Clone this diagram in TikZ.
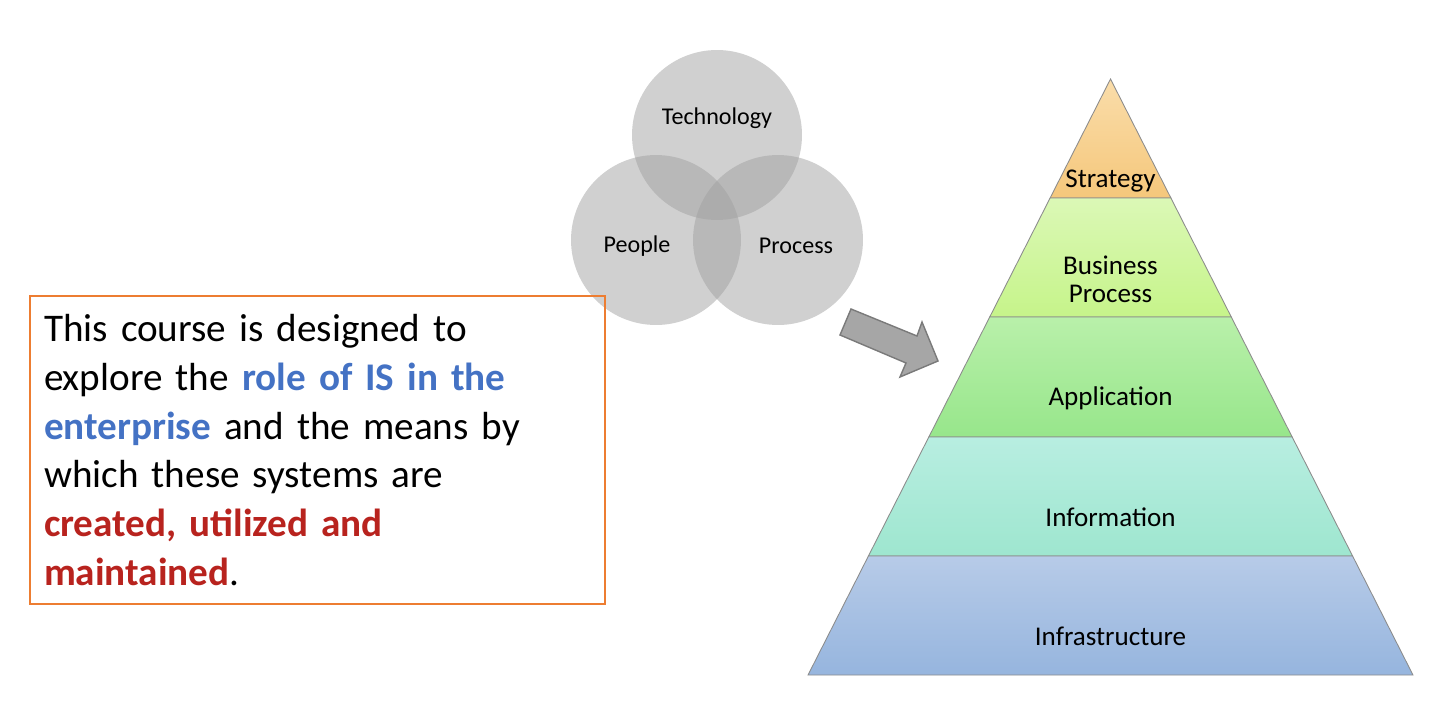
\documentclass[tikz,border=0pt]{standalone}
\usepackage{fontspec}
\setmainfont{Carlito}

\definecolor{boxorange}{HTML}{ED7D31}
\definecolor{roleblue}{HTML}{4472C4}
\definecolor{keyred}{HTML}{B8231E}
\definecolor{arrowgray}{HTML}{A6A6A6}
\definecolor{arrowedge}{HTML}{7A7A7A}
\definecolor{tieredge}{HTML}{8C8C8C}
\definecolor{stratTop}{HTML}{FADDAA}
\definecolor{stratBot}{HTML}{F5C77B}
\definecolor{busTop}{HTML}{DBF8B6}
\definecolor{busBot}{HTML}{C6F48A}
\definecolor{appTop}{HTML}{B9F0AA}
\definecolor{appBot}{HTML}{97E68B}
\definecolor{infoTop}{HTML}{B8EEE1}
\definecolor{infoBot}{HTML}{9EE6CF}
\definecolor{infraTop}{HTML}{B7CBE8}
\definecolor{infraBot}{HTML}{96B5DE}

\begin{document}
\begin{tikzpicture}[
    x=0.02cm, y=-0.02cm,
    venn/.style={
      circle,
      minimum size=3.4cm,
      inner sep=0pt,
      fill=black!37,
      fill opacity=0.5
    },
    vennlabel/.style={font=\fontsize{13.7pt}{16pt}\selectfont},
    tier/.style={draw=tieredge, line width=0.5pt},
    tierlabel/.style={font=\fontsize{15.4pt}{15.9pt}\selectfont, align=center},
    course/.style={
      draw=boxorange,
      line width=0.7pt,
      minimum height=6.16cm,
      text width=10.94cm,
      inner xsep=0.28cm,
      inner ysep=0pt,
      align=left,
      font=\fontsize{22.3pt}{27.8pt}\selectfont
    }
  ]
  \useasboundingbox (0,0) rectangle (1444,706);

  % three circles
  \node[venn] (technology) at (717,135) {};
  \node[venn] (people) at (656,240) {};
  \node[venn] (process) at (778,240) {};
  \node[vennlabel] (techlabel) at (717,118) {Technology};
  \node[vennlabel] (peoplelabel) at (637,246) {People};
  \node[vennlabel] (processlabel) at (796,246) {Process};

  % block arrow towards the pyramid
  \draw[arrowedge, fill=arrowgray, line width=0.8pt, line join=miter]
    (851,309) -- (917,336) -- (922,322) -- (938,361)
    -- (900,377) -- (906,363) -- (840,335) -- cycle;

  % pyramid
  \foreach \yt/\yb/\ct/\cb in {79/198/stratTop/stratBot,
      198/317/busTop/busBot, 317/437/appTop/appBot,
      437/556/infoTop/infoBot, 556/675/infraTop/infraBot}{
    \pgfmathsetmacro{\wt}{(\yt-79)*0.5075}
    \pgfmathsetmacro{\wb}{(\yb-79)*0.5075}
    \draw[tier, top color=\ct, bottom color=\cb]
      (1110.5-\wt,\yt) -- (1110.5+\wt,\yt) -- (1110.5+\wb,\yb)
      -- (1110.5-\wb,\yb) -- cycle;
  }
  \node[tierlabel] (strategy) at (1110.5,181) {Strategy};
  \node[tierlabel] (business) at (1110.5,279) {Business\\Process};
  \node[tierlabel] (application) at (1110.5,398) {Application};
  \node[tierlabel] (information) at (1110.5,517) {Information};
  \node[tierlabel] (infrastructure) at (1110.5,636) {Infrastructure};

  % course text
  \node[course] (coursebox) at (317.5,450)
    {This course is designed to\\
     explore the \textcolor{roleblue}{\bfseries role of IS in the}\\
     \textcolor{roleblue}{\bfseries enterprise} and the means by\\
     which these systems are\\
     \textcolor{keyred}{\bfseries created, utilized and}\\
     \textcolor{keyred}{\bfseries maintained}.};
\end{tikzpicture}
\end{document}
